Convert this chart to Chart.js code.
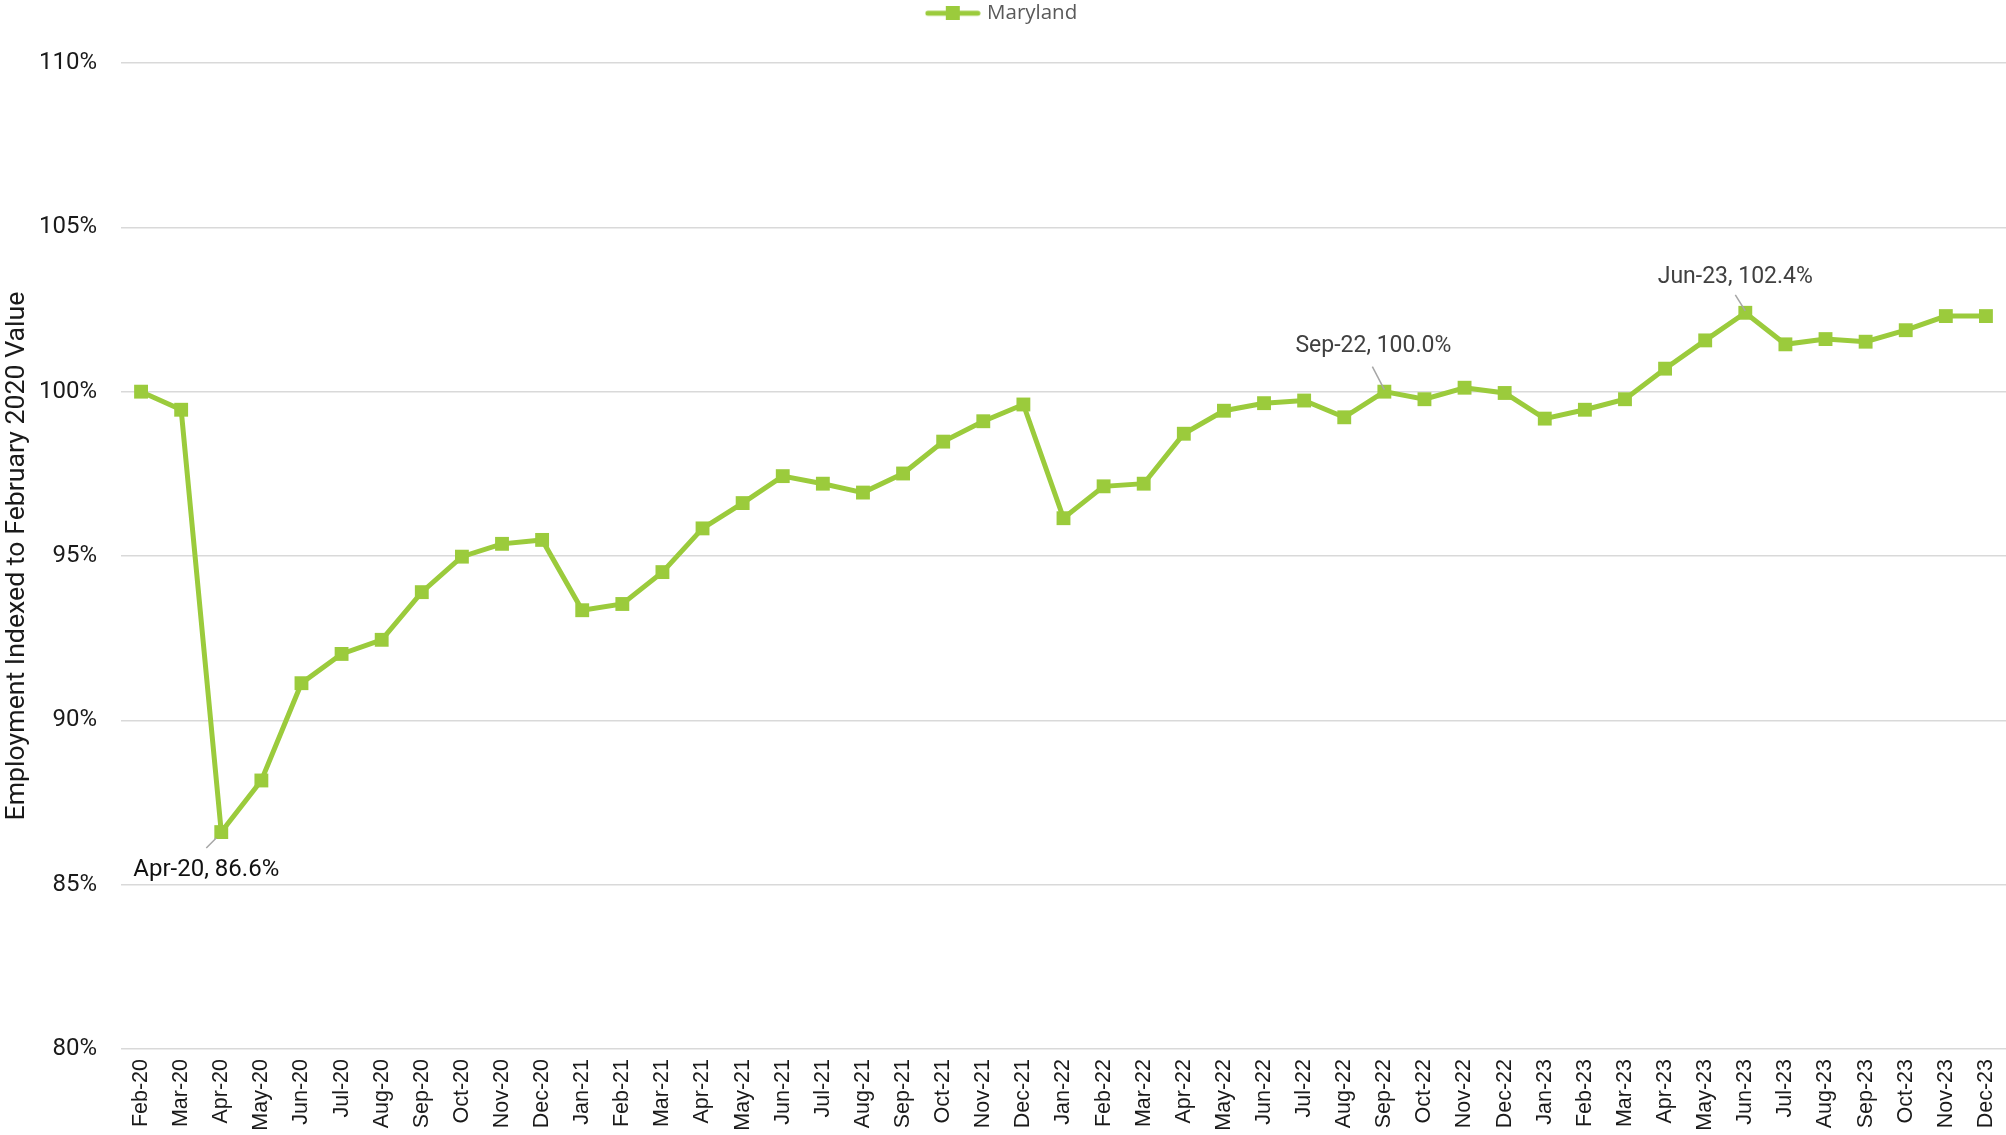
<!DOCTYPE html>
<html>
<head>
<meta charset="utf-8">
<script src="https://cdn.jsdelivr.net/npm/chart.js@4.4.1/dist/chart.umd.min.js"></script>
<style>
  html, body { margin: 0; padding: 0; background: #ffffff; overflow: hidden; }
  #wrap { width: 2006px; height: 1135px; position: relative; }
</style>
</head>
<body>
<div id="wrap"><canvas id="c"></canvas></div>
<script>
// ---- Data ----
const categories = [
  'Feb-20','Mar-20','Apr-20','May-20','Jun-20','Jul-20','Aug-20','Sep-20','Oct-20','Nov-20','Dec-20',
  'Jan-21','Feb-21','Mar-21','Apr-21','May-21','Jun-21','Jul-21','Aug-21','Sep-21','Oct-21','Nov-21','Dec-21',
  'Jan-22','Feb-22','Mar-22','Apr-22','May-22','Jun-22','Jul-22','Aug-22','Sep-22','Oct-22','Nov-22','Dec-22',
  'Jan-23','Feb-23','Mar-23','Apr-23','May-23','Jun-23','Jul-23','Aug-23','Sep-23','Oct-23','Nov-23','Dec-23'
];
const marylandValues = [
  100.0, 99.45, 86.6, 88.17, 91.13, 92.02, 92.45, 93.9, 94.98, 95.37, 95.49,
  93.35, 93.54, 94.51, 95.84, 96.61, 97.43, 97.2, 96.93, 97.51, 98.48, 99.1, 99.61,
  96.15, 97.12, 97.2, 98.72, 99.42, 99.65, 99.73, 99.22, 100.0, 99.77, 100.12, 99.96,
  99.18, 99.45, 99.77, 100.7, 101.56, 102.4, 101.44, 101.6, 101.52, 101.87, 102.3, 102.3
];
const seriesName = 'Maryland';
const yTicks = [80, 85, 90, 95, 100, 105, 110];
const annotatedCategories = ['Apr-20', 'Sep-22', 'Jun-23'];

// ---- Styles ----
const GREEN = '#9BCB3C';
const annotationStyles = {
  'Apr-20': { dx: -15, dy: 38, size: 24, color: '#111111', lead: [[-15, 16], [-5, 6]] },
  'Sep-22': { dx: -11, dy: -45, size: 23, color: '#404040', lead: [[-12, -25], [0, -2]] },
  'Jun-23': { dx: -10, dy: -36, size: 23, color: '#404040', lead: [[-10, -18], [0, -2]] }
};

// legend symbol: line with square marker
const legendIcon = document.createElement('canvas');
legendIcon.width = 56; legendIcon.height = 14;
(function () {
  const g = legendIcon.getContext('2d');
  g.strokeStyle = GREEN; g.lineWidth = 5; g.lineCap = 'round';
  g.beginPath(); g.moveTo(3, 7); g.lineTo(53, 7); g.stroke();
  g.fillStyle = GREEN; g.fillRect(21, 0, 14, 14);
})();

const legendHeightPlugin = {
  id: 'legendHeight',
  beforeInit(chart) {
    const orig = chart.legend.fit;
    chart.legend.fit = function () {
      orig.call(this);
      this.height = 63;
    };
  }
};

const annotationPlugin = {
  id: 'pointAnnotations',
  afterDatasetsDraw(chart) {
    const ctx = chart.ctx;
    const meta = chart.getDatasetMeta(0);
    annotatedCategories.forEach(cat => {
      const i = categories.indexOf(cat);
      const el = meta.data[i];
      const st = annotationStyles[cat];
      const x = el.x, y = el.y;
      ctx.save();
      ctx.strokeStyle = '#a6a6a6';
      ctx.lineWidth = 1.5;
      ctx.beginPath();
      ctx.moveTo(x + st.lead[0][0], y + st.lead[0][1]);
      ctx.lineTo(x + st.lead[1][0], y + st.lead[1][1]);
      ctx.stroke();
      ctx.fillStyle = st.color;
      ctx.font = st.size + 'px Roboto';
      ctx.textAlign = 'center';
      ctx.textBaseline = 'middle';
      ctx.fillText(cat + ', ' + marylandValues[i].toFixed(1) + '%', x + st.dx, y + st.dy);
      ctx.restore();
    });
  }
};

new Chart(document.getElementById('c'), {
  type: 'line',
  data: {
    labels: categories,
    datasets: [{
      label: seriesName,
      data: marylandValues,
      borderColor: GREEN,
      backgroundColor: GREEN,
      borderWidth: 5,
      pointStyle: 'rect',
      pointRadius: 9.8,
      pointHoverRadius: 9.8,
      pointBorderWidth: 0,
      pointBackgroundColor: GREEN,
      tension: 0,
      fill: false,
      clip: false
    }]
  },
  options: {
    responsive: true,
    maintainAspectRatio: false,
    animation: false,
    devicePixelRatio: 1,
    layout: { padding: 0, autoPadding: false },
    plugins: {
      legend: {
        display: true,
        position: 'top',
        labels: {
          usePointStyle: true,
          pointStyle: legendIcon,
          pointStyleWidth: 48,
          padding: 3,
          color: '#595959',
          font: { family: '"Open Sans"', size: 20.5 }
        }
      },
      tooltip: { enabled: false }
    },
    scales: {
      x: {
        type: 'category',
        offset: true,
        grid: { display: false, drawTicks: false },
        border: { display: false },
        ticks: {
          autoSkip: false,
          minRotation: 90,
          maxRotation: 90,
          padding: 10,
          color: '#1a1a1a',
          font: { family: '"Liberation Sans", Arial', size: 21.5, lineHeight: 0.3 }
        },
        afterFit(scale) {
          scale.height = 86;
          scale.paddingLeft = 0;
          scale.paddingRight = 0;
        }
      },
      y: {
        min: 80,
        max: 110,
        afterBuildTicks(scale) { scale.ticks = yTicks.map(v => ({ value: v })); },
        grid: { color: '#d9d9d9', lineWidth: 1.5, drawTicks: false },
        border: { display: false },
        ticks: {
          padding: 24,
          color: '#1a1a1a',
          font: { family: 'Roboto', size: 24 },
          callback: v => v + '%'
        },
        title: {
          display: true,
          text: 'Employment Indexed to February 2020 Value',
          color: '#1a1a1a',
          font: { family: 'Roboto', size: 26.7 },
          padding: { top: 1, bottom: 0 }
        },
        afterFit(scale) {
          scale.width = 121;
          scale.paddingTop = 0;
          scale.paddingBottom = 0;
        }
      }
    }
  },
  plugins: [legendHeightPlugin, annotationPlugin]
});
</script>
</body>
</html>
